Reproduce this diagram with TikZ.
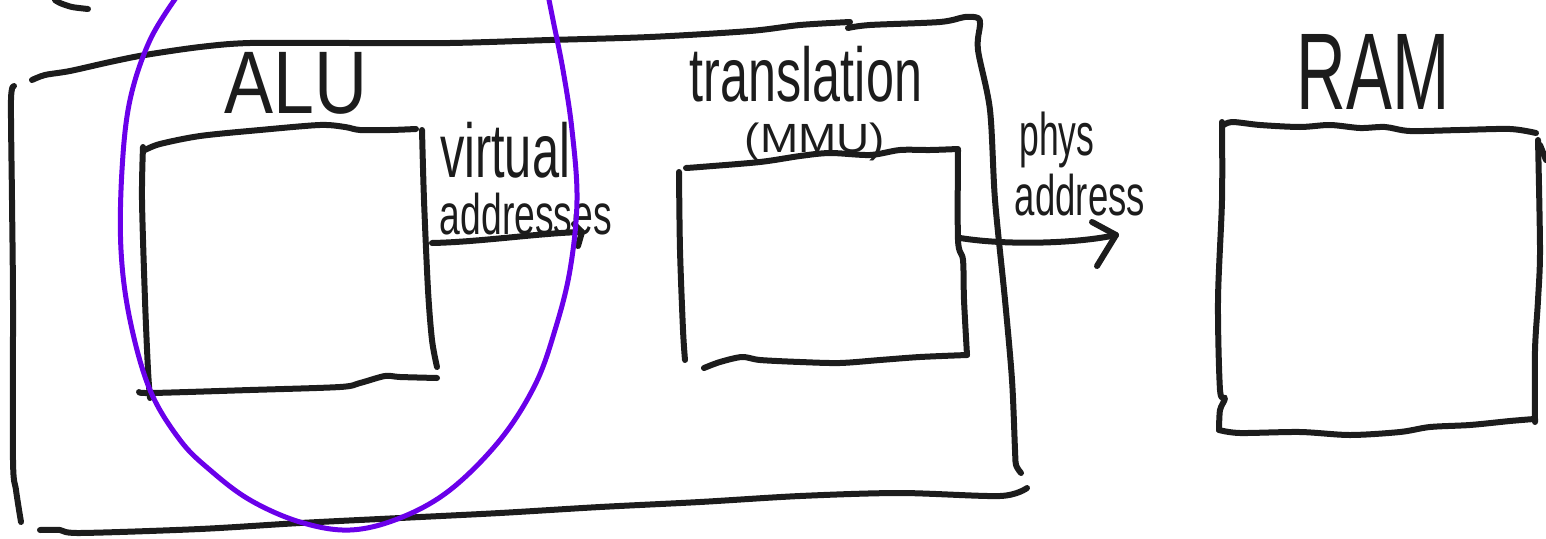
\documentclass[tikz,border=0pt]{standalone}
\usepackage{fontspec}
\setmainfont{Liberation Sans}
\usepackage{graphicx}
\usetikzlibrary{arrows.meta}
\definecolor{ink}{RGB}{28,28,28}
\definecolor{pen}{RGB}{106,0,234}
\newcommand{\hw}[3]{\resizebox*{#1pt}{#2pt}{#3}}
\tikzset{
  stroke/.style={draw=ink, line width=6pt, line cap=round, line join=round},
  loop/.style={draw=pen, line width=5pt, line cap=round, line join=round},
  label/.style={inner sep=0pt, text=ink},
}
\begin{document}
\begin{tikzpicture}[x=1pt,y=-1pt]
\useasboundingbox (0,0) rectangle (1546,538);
% fragment at top left
\draw[stroke] plot[smooth] coordinates {(88,9) (72,7) (60,3) (55,0)};
% outer box
\draw[stroke] plot[smooth,tension=0.5] coordinates {(32,80) (45,75) (70,71) (110,62) (145,55) (200,47) (250,43) (350,43) (450,43) (550,40) (650,37) (750,31) (800,25) (850,22)};
\draw[stroke] plot[smooth,tension=0.5] coordinates {(848,28) (870,25) (940,22) (965,17) (978,18) (980,25) (978,50) (990,110) (995,200) (1005,300) (1012,380) (1015,450) (1016,465) (1021,473)};
\draw[stroke] plot[smooth,tension=0.5] coordinates {(14,86) (11,100) (12,200) (13,300) (13,460) (16,490) (21,522)};
\draw[stroke] plot[smooth,tension=0.5] coordinates {(40,530) (60,530) (80,533) (200,529) (300,523) (400,518) (500,513) (600,507) (700,502) (800,496) (900,493) (1000,496) (1027,488)};
% ALU box
\draw[stroke] plot[smooth,tension=0.5] coordinates {(145,150) (160,144) (200,136) (260,130) (320,125) (345,127) (360,130) (390,130) (416,129)};
\draw[stroke] plot[smooth,tension=0.5] coordinates {(143,147) (142,200) (145,300) (148,370) (150,398)};
\draw[stroke] plot[smooth,tension=0.5] coordinates {(139,392) (152,393) (250,390) (340,387) (360,383) (385,376) (400,377) (437,378)};
\draw[stroke] plot[smooth,tension=0.5] coordinates {(422,130) (424,200) (428,290) (432,340) (437,367)};
% MMU box
\draw[stroke] plot[smooth,tension=0.5] coordinates {(686,168) (700,167) (760,162) (800,156) (830,153) (870,155) (900,150) (930,150) (958,149)};
\draw[stroke] plot[smooth,tension=0.5] coordinates {(679,172) (680,250) (683,330) (685,360)};
\draw[stroke] plot[smooth,tension=0.5] coordinates {(704,368) (720,362) (742,357) (760,360) (800,362) (840,363) (880,360) (920,357) (967,355)};
\draw[stroke] plot[smooth,tension=0.5] coordinates {(958,150) (958,240) (963,260) (964,300) (967,355)};
% RAM box
\draw[stroke] plot[smooth,tension=0.5] coordinates {(1222,126) (1232,122) (1260,125) (1300,127) (1330,125) (1360,128) (1385,127) (1410,131) (1460,130) (1510,129) (1536,133)};
\draw[stroke] plot[smooth,tension=0.5] coordinates {(1222,122) (1222,200) (1218,300) (1220,390) (1225,398) (1220,410) (1219,430)};
\draw[stroke] plot[smooth,tension=0.5] coordinates {(1219,430) (1240,433) (1300,432) (1350,435) (1400,432) (1430,427) (1470,425) (1510,421) (1534,419)};
\draw[stroke] plot[smooth,tension=0.5] coordinates {(1540,145) (1546,160)};
\draw[stroke] plot[smooth,tension=0.5] coordinates {(1538,140) (1540,250) (1538,300) (1535,350) (1535,422)};
% labels
\node[label] (alu) at (296,83) {\hw{143}{62}{ALU}};
\node[label] (trans) at (806,74) {\hw{232}{56}{translation}};
\node[label] (mmu) at (815,142) {\hw{140}{38}{(MMU)}};
\node[label] (virt) at (505,150) {\hw{130}{56}{virtual}};
\node[label] (vaddr) at (526,214) {\hw{172}{42}{addresses}};
\node[label] (phys) at (1057,140) {\hw{75}{56}{phys}};
\node[label] (paddr) at (1080,195) {\hw{130}{42}{address}};
\node[label] (ram) at (1373,72) {\hw{153}{75}{RAM}};
% arrows
\coordinate (va0) at (432,243);
\coordinate (va1) at (582,232);
\draw[stroke] (va0) .. controls (480,242) and (540,233) .. (va1);
\draw[stroke] (574,224) -- (va1) -- (578,246);
\coordinate (pa0) at (960,238);
\coordinate (pa1) at (1116,235);
\draw[stroke] (pa0) .. controls (1010,246) and (1080,243) .. (pa1);
\draw[stroke] (1092,222) -- (pa1) -- (1097,266);
% purple loop
\draw[loop] plot[smooth,tension=0.6] coordinates {(178,-5) (150,40) (130,100) (122,170) (121,250) (130,320) (150,390) (180,440) (210,470) (250,500) (300,522) (350,530) (400,518) (450,490) (500,440) (535,385) (555,330) (570,270) (577,200) (572,130) (563,70) (553,20) (548,-5)};
\end{tikzpicture}
\end{document}
